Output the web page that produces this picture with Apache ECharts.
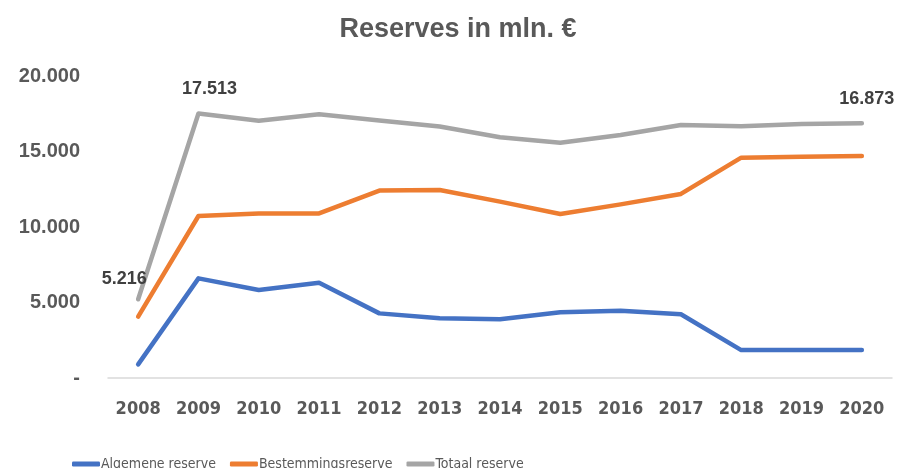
<!DOCTYPE html>
<html>
<head>
<meta charset="utf-8">
<script src="https://cdn.jsdelivr.net/npm/echarts@6/dist/echarts.min.js"></script>
<style>
  html, body { margin: 0; padding: 0; background: #fff; }
  #chart { width: 898px; height: 468px; }
</style>
</head>
<body>
<div id="chart"></div>
<script>
// data
const years = ['2008', '2009', '2010', '2011', '2012', '2013', '2014', '2015', '2016', '2017', '2018', '2019', '2020']
const algemene = [900, 6600, 5830, 6310, 4280, 3950, 3890, 4350, 4460, 4220, 1850, 1850, 1850]
const bestemming = [4060, 10730, 10900, 10900, 12410, 12450, 11680, 10860, 11500, 12190, 14590, 14660, 14700]
const totaal = [5216, 17513, 17040, 17460, 17060, 16650, 15940, 15580, 16090, 16750, 16670, 16820, 16873]
const seriesNames = ['Algemene reserve', 'Bestemmingsreserve', 'Totaal reserve']
const colors = ['#4472C4', '#ED7D31', '#A5A5A5']

// which points of the total line carry a value label, and where it sits
const labelOffsets = { 0: [-14, -20], 1: [11, -25], 12: [5, -24] }

const condensed = '"DejaVu Sans Condensed", "Liberation Sans", sans-serif'

const fmt = v => v === 0 ? '-' : v.toString().replace(/\B(?=(\d{3})+(?!\d))/g, '.')

const chart = echarts.init(document.getElementById('chart'))

const totalData = totaal.map((v, i) => {
  if (!labelOffsets[i]) return v
  return {
    value: v,
    label: {
      show: true,
      position: 'inside',
      offset: labelOffsets[i],
      formatter: p => fmt(p.value),
      fontFamily: 'Liberation Sans',
      fontWeight: 'bold',
      fontSize: 18,
      color: '#404040'
    }
  }
})

const lineSeries = (name, data, color) => ({
  name: name,
  type: 'line',
  data: data,
  symbol: 'circle',
  symbolSize: 0,
  showSymbol: true,
  smooth: false,
  lineStyle: { color: color, width: 4.5, cap: 'round', join: 'round' },
  itemStyle: { color: color }
})

chart.setOption({
  animation: false,
  title: {
    text: 'Reserves in mln. €',
    left: 453,
    textAlign: 'center',
    top: 11,
    textStyle: {
      fontFamily: 'Liberation Sans',
      fontWeight: 'bold',
      fontSize: 27,
      color: '#595959'
    }
  },
  grid: { left: 108, right: 6, top: 76, bottom: 90 },
  legend: {
    data: seriesNames,
    left: 67,
    top: 452,
    itemWidth: 28,
    itemHeight: 5,
    itemGap: 14,
    icon: 'roundRect',
    textStyle: {
      fontFamily: condensed,
      fontSize: 14,
      color: '#595959',
      padding: [0, 0, 0, -4]
    }
  },
  xAxis: {
    type: 'category',
    data: years,
    boundaryGap: true,
    axisLine: { lineStyle: { color: '#D9D9D9', width: 1.5 } },
    axisTick: { show: false },
    axisLabel: {
      margin: 22,
      fontFamily: condensed,
      fontWeight: 'bold',
      fontSize: 18,
      color: '#595959'
    }
  },
  yAxis: {
    type: 'value',
    min: 0,
    max: 20000,
    interval: 5000,
    splitLine: { show: false },
    axisLine: { show: false },
    axisTick: { show: false },
    axisLabel: {
      margin: 28,
      formatter: fmt,
      fontFamily: 'Liberation Sans',
      fontWeight: 'bold',
      fontSize: 20,
      color: '#595959'
    }
  },
  series: [
    lineSeries(seriesNames[0], algemene, colors[0]),
    lineSeries(seriesNames[1], bestemming, colors[1]),
    lineSeries(seriesNames[2], totalData, colors[2])
  ]
})
</script>
</body>
</html>
